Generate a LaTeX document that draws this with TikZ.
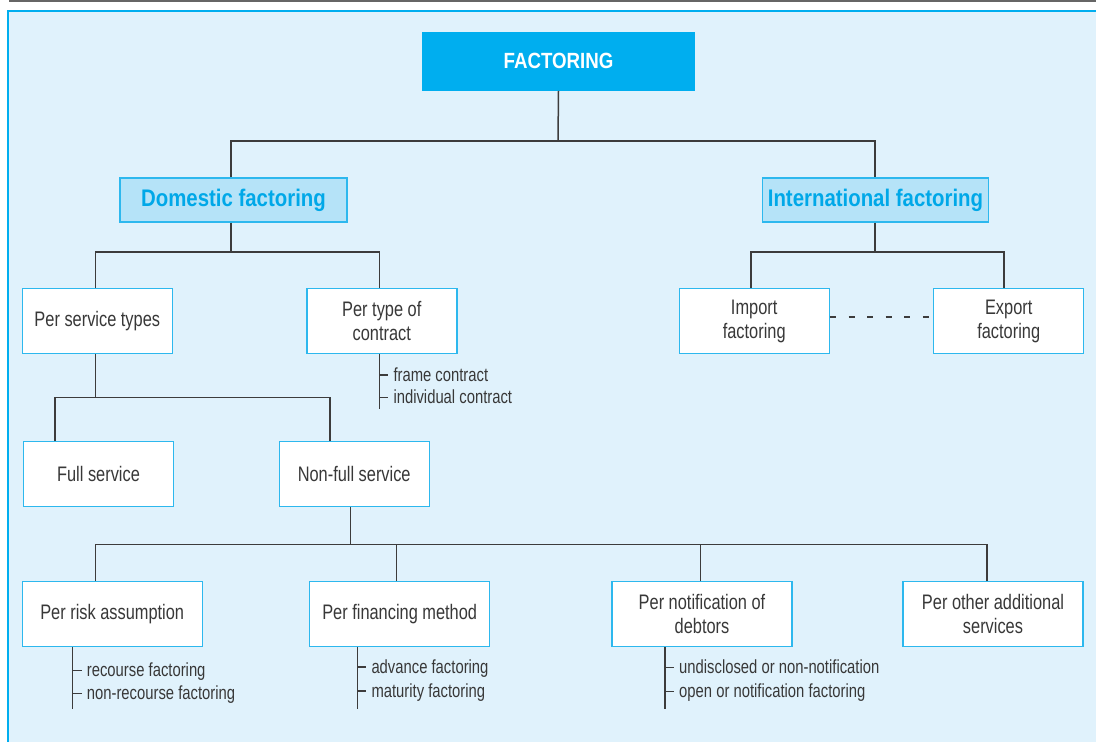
\documentclass[tikz,border=0pt]{standalone}
\usepackage{fontspec}
\setmainfont{Liberation Sans}[FakeStretch=0.78]
\newfontfamily\hfbold{Liberation Sans}[FakeStretch=0.85]
\definecolor{cyanB}{HTML}{2DB8EE}
\definecolor{titlefill}{HTML}{00AEEF}
\definecolor{domfill}{HTML}{B5E3F8}
\definecolor{panel}{HTML}{E0F2FC}
\definecolor{ln}{HTML}{3C3C3C}
\definecolor{txt}{HTML}{383838}
\definecolor{domtxt}{HTML}{00A8E8}
\definecolor{topgray}{HTML}{666666}
\tikzset{
  box/.style={draw=cyanB, fill=white, line width=1.4pt, minimum height=65pt,
    inner sep=0pt, align=center, text=txt, font=\fontsize{21}{24}\selectfont},
  catbox/.style={draw=cyanB, fill=domfill, line width=1.4pt, minimum height=44pt,
    inner sep=0pt, text=domtxt, font=\hfbold\bfseries\fontsize{24}{28}\selectfont},
  titlebox/.style={fill=titlefill, minimum height=59pt, inner sep=0pt,
    text=white, font=\hfbold\bfseries\fontsize{22}{26}\selectfont},
  conn/.style={draw=ln, line width=1.5pt},
  subitem/.style={anchor=base west, inner sep=0pt, text=txt, font=\fontsize{19}{24}\selectfont},
}
\begin{document}
\begin{tikzpicture}[x=1pt,y=-1pt]
\useasboundingbox (0,0) rectangle (1096,742);
% background panel
\draw[topgray, line width=1.6pt] (9,0.8) -- (1096,0.8);
\fill[panel] (8,11) rectangle (1110,760);
\draw[titlefill, line width=2.6pt] (8,760) -- (8,11) -- (1110,11);

% nodes
\node[titlebox, minimum width=273pt] (fact) at (558.5,61.2) {FACTORING};
\node[catbox, minimum width=227pt] (dom) at (233.5,200) {Domestic factoring};
\node[catbox, minimum width=226pt] (intl) at (875.5,200) {International factoring};

\node[box, minimum width=150pt] (svc) at (97.3,320.8) {Per service types};
\node[box, minimum width=150pt] (con) at (381.8,320.8) {Per type of\\contract};
\node[box, minimum width=150pt] (imp) at (754.2,321) {Import\\factoring};
\node[box, minimum width=150pt] (exp) at (1008.7,321) {Export\\factoring};

\node[box, minimum width=150pt] (full) at (98.5,474.2) {Full service};
\node[box, minimum width=150pt] (nf) at (354.2,474.2) {Non-full service};

\node[box, minimum width=180pt] (risk) at (112.2,614.2) {Per risk assumption};
\node[box, minimum width=180pt] (fin) at (399.7,614.2) {Per financing method};
\node[box, minimum width=180pt] (notif) at (702,614.2) {Per notification of\\debtors};
\node[box, minimum width=180pt] (oth) at (993,614.2) {Per other additional\\services};

% tree connectors
\coordinate (j0) at (558,141);
\draw[conn] (fact.south) -- (j0);
\draw[conn] ([xshift=-2.5pt]dom.north) |- (j0) -| ([xshift=-0.5pt]intl.north);

\coordinate (j1) at (231,252);
\draw[conn] ([xshift=-2.5pt]dom.south) -- (j1);
\draw[conn] ([xshift=-1.6pt]svc.north) |- (j1) -| ([xshift=-2.5pt]con.north);

\coordinate (j2) at (875,252);
\draw[conn] ([xshift=-0.5pt]intl.south) -- (j2);
\draw[conn] ([xshift=-3.2pt]imp.north) |- (j2) -| ([xshift=-4.7pt]exp.north);

\draw[conn, dash pattern=on 6pt off 12.6pt] ([yshift=4pt]imp.east) -- ([yshift=4pt]exp.west);

\coordinate (j3) at (95.7,397.7);
\draw[conn] ([xshift=-1.6pt]svc.south) -- (j3);
\draw[conn] ([xshift=-43.5pt]full.north) |- (j3) -| ([xshift=-24.2pt]nf.north);

\coordinate (j4) at (350.7,544.5);
\draw[conn] ([xshift=-3.5pt]nf.south) -- (j4);
\draw[conn] ([xshift=-16.5pt]risk.north) |- (j4) -| ([xshift=-6pt]oth.north);
\draw[conn] ([xshift=-3.4pt]fin.north) -- ++(0,-36.8);
\draw[conn] ([xshift=-1.7pt]notif.north) -- ++(0,-36.8);

% sub lists
\node[subitem] (c1) at (393.3,381) {frame contract};
\node[subitem] (c2) at (393.3,403.5) {individual contract};
\draw[conn] ([xshift=-2.5pt]con.south) -- ++(0,55);
\foreach \n in {c1,c2} \draw[conn] ([xshift=-14pt,yshift=6pt]\n.base west) -- ([xshift=-5pt,yshift=6pt]\n.base west);

\node[subitem] (r1) at (86.7,676.5) {recourse factoring};
\node[subitem] (r2) at (86.7,699.5) {non-recourse factoring};
\draw[conn] ([xshift=-39.5pt]risk.south) -- ++(0,62);
\foreach \n in {r1,r2} \draw[conn] ([xshift=-14pt,yshift=6pt]\n.base west) -- ([xshift=-5pt,yshift=6pt]\n.base west);

\node[subitem] (f1) at (371.3,673) {advance factoring};
\node[subitem] (f2) at (371.3,697) {maturity factoring};
\draw[conn] ([xshift=-42.4pt]fin.south) -- ++(0,62);
\foreach \n in {f1,f2} \draw[conn] ([xshift=-14pt,yshift=6pt]\n.base west) -- ([xshift=-5pt,yshift=6pt]\n.base west);

\node[subitem] (n1) at (679,673.5) {undisclosed or non-notification};
\node[subitem] (n2) at (679,697.5) {open or notification factoring};
\draw[conn] ([xshift=-37pt]notif.south) -- ++(0,62);
\foreach \n in {n1,n2} \draw[conn] ([xshift=-14pt,yshift=6pt]\n.base west) -- ([xshift=-5pt,yshift=6pt]\n.base west);
\end{tikzpicture}
\end{document}
